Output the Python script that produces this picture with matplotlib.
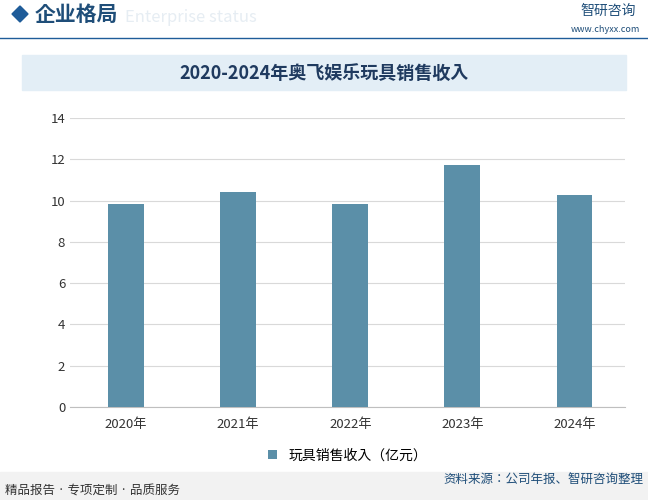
import matplotlib.pyplot as plt
from matplotlib.patches import Rectangle, Polygon

plt.rcParams['font.family'] = 'sans-serif'
plt.rcParams['font.sans-serif'] = ['Noto Sans CJK SC', 'Noto Sans CJK JP', 'DejaVu Sans']

years = ['2020年', '2021年', '2022年', '2023年', '2024年']
revenue = [9.85, 10.4, 9.85, 11.7, 10.25]
yticks = [0, 2, 4, 6, 8, 10, 12, 14]

W, H = 648, 500
fig = plt.figure(figsize=(W / 100, H / 100), dpi=100)

# 页眉
fig.text(125 / W, 1 - 17 / H, 'Enterprise status', fontsize=12, color='#e6edf3', va='center')
fig.text(35 / W, 1 - 14 / H, '企业格局', fontsize=15, fontweight='bold', color='#1f4e79', va='center')
fig.patches.append(Polygon([(12 / W, 1 - 14 / H), (20 / W, 1 - 6 / H), (28 / W, 1 - 14 / H), (20 / W, 1 - 22 / H)],
                           closed=True, transform=fig.transFigure, color='#1f5c99'))
fig.text(580 / W, 1 - 11 / H, '智研咨询', fontsize=10, color='#1f4e79', va='center')
fig.text(640 / W, 1 - 29 / H, 'www.chyxx.com', fontsize=6.5, color='#1f4e79', va='center', ha='right')
fig.lines.append(plt.Line2D([0, 1], [1 - 38 / H] * 2, transform=fig.transFigure, color='#1f5c99', lw=1))

# 标题栏
fig.patches.append(Rectangle((22 / W, 1 - 90 / H), 604 / W, 35 / H, transform=fig.transFigure,
                             color='#e3eef6', zorder=0))
fig.text(324 / W, 1 - 73 / H, '2020-2024年奥飞娱乐玩具销售收入', fontsize=13, fontweight='bold',
         color='#1f3a5f', ha='center', va='center')

ax = fig.add_axes([70 / W, 1 - 407 / H, 555 / W, 289 / H])
ax.bar(years, revenue, width=0.32, color='#5b8fa8', label='玩具销售收入（亿元）', zorder=3)
ax.set_xlim(-0.5, 4.45)
ax.set_ylim(0, 14)
ax.set_yticks(yticks)
ax.grid(axis='y', color='#d9d9d9', lw=0.8, zorder=0)
for s in ['top', 'right', 'left']:
    ax.spines[s].set_visible(False)
ax.spines['bottom'].set_color('#bfbfbf')
ax.tick_params(length=0, labelsize=9.5, colors='#333333')
ax.tick_params(axis='x', pad=8)
ax.legend(loc='upper center', bbox_to_anchor=(0.5, -0.1), frameon=False, fontsize=10,
          handlelength=0.7, handleheight=0.7)

# 页脚
fig.patches.append(Rectangle((0, 0), 1, 28 / H, transform=fig.transFigure, color='#f2f2f2', zorder=0))
fig.text(5 / W, 9 / H, '精品报告 · 专项定制 · 品质服务', fontsize=9, color='#333333', va='center')
fig.text(643 / W, 21 / H, '资料来源：公司年报、智研咨询整理', fontsize=9, color='#1f4e79', va='center', ha='right')

fig.savefig('out.png', dpi=100)
